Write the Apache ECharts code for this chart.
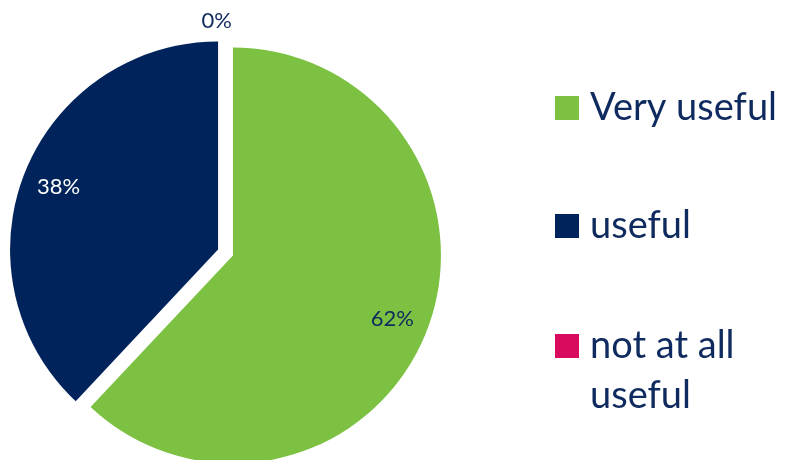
<!DOCTYPE html>
<html>
<head>
<meta charset="utf-8">
<script src="https://cdn.jsdelivr.net/npm/echarts@6/dist/echarts.min.js"></script>
<style>html,body{margin:0;padding:0;background:#fff}#c{width:788px;height:460px}</style>
</head>
<body>
<div id="c"></div>
<script>
var categories = ['Very useful', 'useful', 'not at all useful'];
var legendLabels = ['Very useful', 'useful', ' \nnot at all\nuseful'];
var values = [62, 38, 0];
var colors = ['#7DC143', '#00235C', '#D90B5E'];

var FONT = 'Lato';
var TEXT = '#0E2A5E';
var chart = echarts.init(document.getElementById('c'));

function mkData(withLabels) {
  return categories.map(function (n, i) {
    var d = { name: n, value: values[i], selected: true, itemStyle: { color: withLabels ? 'rgba(0,0,0,0)' : colors[i] } };
    if (withLabels) {
      if (values[i] === 0) {
        d.label = { position: 'outside', color: TEXT };
        d.labelLine = { show: false, length: 16, length2: -29 };
      } else {
        d.label = { position: 'inside', color: i === 1 ? '#ffffff' : TEXT };
      }
    }
    return d;
  });
}

var legendTops = [78, 196, 266];
var legends = categories.map(function (n, i) {
  return {
    orient: 'vertical',
    left: 550,
    top: legendTops[i],
    itemWidth: 24,
    itemHeight: 24,
    icon: 'rect',
    selectedMode: false,
    textStyle: { fontFamily: FONT, fontSize: 38, color: TEXT, lineHeight: 50, padding: [0, 0, 0, 6] },
    formatter: function (name) { return legendLabels[categories.indexOf(name)]; },
    data: [n]
  };
});

chart.setOption({
  animation: false,
  legend: legends,
  series: [
    {
      type: 'pie',
      name: 'main',
      center: [225.5, 252.5],
      radius: [0, 208],
      startAngle: 90,
      clockwise: true,
      selectedMode: 'multiple',
      selectedOffset: 8,
      avoidLabelOverlap: false,
      label: { show: false },
      labelLine: { show: false },
      emphasis: { disabled: true },
      data: mkData(false)
    },
    {
      type: 'pie',
      name: 'labels',
      center: [225.5, 252.5],
      radius: [129, 208],
      startAngle: 90,
      clockwise: true,
      selectedMode: 'multiple',
      selectedOffset: 8,
      avoidLabelOverlap: false,
      silent: true,
      label: {
        show: true,
        fontFamily: FONT,
        fontSize: 22,
        formatter: function (p) { return p.value + '%'; }
      },
      labelLine: { show: false },
      emphasis: { disabled: true },
      data: mkData(true)
    }
  ]
});
</script>
</body>
</html>
